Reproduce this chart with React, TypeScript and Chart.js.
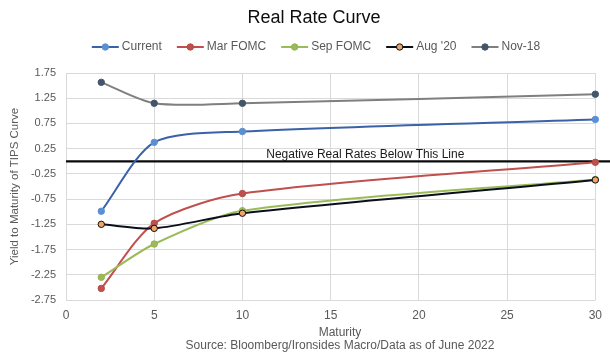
import React, { useEffect, useRef } from "react";
import { Chart, registerables } from "chart.js";

Chart.register(...registerables);

const FONT = '"Liberation Sans", Arial, Helvetica, sans-serif';

// ---- data ----
const chartTitle = "Real Rate Curve";
const yAxisTitle = "Yield to Maturity of TIPS Curve";
const xAxisTitle = "Maturity";
const sourceNote = "Source: Bloomberg/Ironsides Macro/Data as of June 2022";
const annotationText = "Negative Real Rates Below This Line";

const maturities = [2, 5, 10, 30];
const seriesNames = ["Current", "Mar FOMC", "Sep FOMC", "Aug '20", "Nov-18"];
const current = [-0.99, 0.375, 0.59, 0.83];
const marFomc = [-2.52, -1.23, -0.64, -0.02];
const sepFomc = [-2.3, -1.64, -0.98, -0.36];
const aug20 = [-1.25, -1.33, -1.03, -0.37];
const nov18 = [1.565, 1.15, 1.15, 1.33];

const zeroLineX = [0, 31];
const zeroLineY = [0, 0];
const annotationX = 11.35;

const xMin = 0;
const xMax = 30;
const xStep = 5;
const yMin = -2.75;
const yMax = 1.75;
const yStep = 0.5;

// ---- styles ----
const lineColors = ["#3A62A8", "#C0504D", "#9BBB59", "#0A0F1A", "#7F7F7F"];
const markerColors = ["#5B8FD4", "#C0504D", "#9BBB59", "#F2A462", "#44546A"];
const markerBorders = ["#5B8FD4", "#B44A47", "#93B153", "#0A0F1A", "#44546A"];
const textGray = "#595959";
const gridColor = "#D9D9D9";

export default function App() {
  const ref = useRef<HTMLCanvasElement>(null);

  useEffect(() => {
    const canvas = ref.current;
    if (!canvas) return;
    const series = [current, marFomc, sepFomc, aug20, nov18];

    const datasets: any[] = series.map((vals, i) => ({
      label: seriesNames[i],
      data: maturities.map((m, j) => ({ x: m, y: vals[j] })),
      showLine: true,
      borderColor: lineColors[i],
      borderWidth: 2,
      tension: 0.27,
      pointRadius: 3.2,
      pointBackgroundColor: markerColors[i],
      pointBorderColor: markerBorders[i],
      pointBorderWidth: 1,
      clip: false,
      order: -i,
    }));
    datasets.push({
      label: "zero",
      data: zeroLineX.map((x, j) => ({ x, y: zeroLineY[j] })),
      showLine: true,
      borderColor: "#0A0A0A",
      borderWidth: 2.2,
      pointRadius: 0,
      tension: 0,
      clip: false,
      order: 10,
    });

    const textPlugin = {
      id: "texts",
      afterDraw(chart: any) {
        const c = chart.ctx as CanvasRenderingContext2D;
        c.save();
        // title
        c.fillStyle = "#0D0D0D";
        c.font = `18px ${FONT}`;
        c.textAlign = "center";
        c.textBaseline = "middle";
        c.fillText(chartTitle, 314, 18);

        // legend
        c.font = `12px ${FONT}`;
        const lineW = 27;
        const gapText = 3;
        const gapItem = 15;
        const widths = seriesNames.map((n) => c.measureText(n).width);
        const total =
          widths.reduce((a, w) => a + lineW + gapText + w, 0) + gapItem * (seriesNames.length - 1);
        let x = 316 - total / 2;
        const ly = 47;
        seriesNames.forEach((n, i) => {
          c.strokeStyle = lineColors[i];
          c.lineWidth = 2;
          c.beginPath();
          c.moveTo(x, ly);
          c.lineTo(x + lineW, ly);
          c.stroke();
          c.beginPath();
          c.arc(x + lineW / 2, ly, 3.2, 0, Math.PI * 2);
          c.fillStyle = markerColors[i];
          c.fill();
          c.lineWidth = 1;
          c.strokeStyle = markerBorders[i];
          c.stroke();
          c.fillStyle = textGray;
          c.textAlign = "left";
          c.textBaseline = "middle";
          c.fillText(n, x + lineW + gapText, ly);
          x += lineW + gapText + widths[i] + gapItem;
        });

        // annotation
        const xs = chart.scales.x;
        const ys = chart.scales.y;
        c.fillStyle = "#1A1A1A";
        c.font = `12px ${FONT}`;
        c.textAlign = "left";
        c.textBaseline = "middle";
        c.fillText(annotationText, xs.getPixelForValue(annotationX), ys.getPixelForValue(0) - 7);

        // y axis title
        c.save();
        c.translate(15, (chart.chartArea.top + chart.chartArea.bottom) / 2);
        c.rotate(-Math.PI / 2);
        c.fillStyle = textGray;
        c.font = `11.5px ${FONT}`;
        c.textAlign = "center";
        c.textBaseline = "middle";
        c.fillText(yAxisTitle, 0, 0);
        c.restore();

        // x axis title + source
        c.fillStyle = textGray;
        c.font = `12px ${FONT}`;
        c.textAlign = "center";
        c.textBaseline = "middle";
        c.fillText(xAxisTitle, 340, 333);
        c.fillText(sourceNote, 340, 346);
        c.restore();
      },
    };

    const chart = new Chart(canvas, {
      type: "scatter",
      data: { datasets },
      options: {
        responsive: false,
        animation: false,
        layout: { padding: { top: 73, right: 13, bottom: 0, left: 0 } },
        plugins: {
          legend: { display: false },
          title: { display: false },
          tooltip: { enabled: false },
        },
        scales: {
          x: {
            type: "linear",
            min: xMin,
            max: xMax,
            ticks: {
              stepSize: xStep,
              color: textGray,
              font: { family: FONT, size: 12 },
              padding: 8,
            },
            grid: { color: gridColor, drawTicks: false, lineWidth: 1 },
            border: { display: false },
            afterFit: (s: any) => {
              s.height = 61;
            },
          },
          y: {
            type: "linear",
            min: yMin,
            max: yMax,
            ticks: {
              stepSize: yStep,
              color: textGray,
              font: { family: FONT, size: 11 },
              padding: 10,
              callback: (v: any) => Number(v).toFixed(2),
            },
            grid: { color: gridColor, drawTicks: false, lineWidth: 1 },
            border: { display: false },
            afterFit: (s: any) => {
              s.width = 66;
            },
          },
        },
      } as any,
      plugins: [textPlugin],
    });

    return () => chart.destroy();
  }, []);

  return (
    <div style={{ position: "fixed", left: 0, top: 0, width: 610, height: 361, background: "#fff" }}>
      <canvas ref={ref} width={610} height={361} style={{ display: "block" }} />
    </div>
  );
}
